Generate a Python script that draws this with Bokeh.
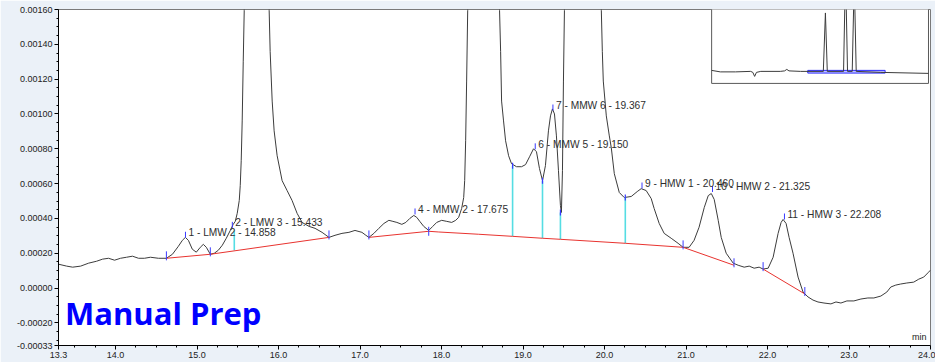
import numpy as np
from bokeh.plotting import figure
from bokeh.models import Range1d, FixedTicker, PrintfTickFormatter, Label
from bokeh.core.properties import value
from bokeh.embed import file_html
from bokeh.resources import INLINE

# ---------------- data ----------------
# main chromatogram trace (time in min, absorbance in AU)
trace_t = [
    13.300, 13.400, 13.474, 13.572, 13.670, 13.767, 13.841, 13.914, 13.988, 14.061,
    14.135, 14.208, 14.282, 14.355, 14.428, 14.526, 14.624, 14.698, 14.771, 14.820,
    14.857, 14.894, 14.942, 14.991, 15.040, 15.077, 15.114, 15.163, 15.212, 15.261,
    15.310, 15.359, 15.408, 15.444, 15.469, 15.493, 15.518, 15.530, 15.542, 15.554,
    15.567, 15.579, 15.603, 15.738, 15.873, 15.885, 15.897, 15.922, 15.946, 15.983,
    16.044, 16.105, 16.166, 16.228, 16.289, 16.375, 16.448, 16.534, 16.619, 16.693,
    16.778, 16.864, 16.938, 17.023, 17.072, 17.109, 17.170, 17.231, 17.293, 17.354,
    17.403, 17.452, 17.513, 17.562, 17.611, 17.660, 17.696, 17.733, 17.782, 17.843,
    17.892, 17.941, 18.002, 18.064, 18.125, 18.174, 18.210, 18.247, 18.272, 18.284,
    18.296, 18.308, 18.321, 18.345, 18.517, 18.688, 18.712, 18.725, 18.737, 18.761,
    18.786, 18.823, 18.859, 18.920, 18.982, 19.031, 19.080, 19.129, 19.165, 19.202,
    19.239, 19.275, 19.312, 19.337, 19.361, 19.386, 19.410, 19.435, 19.459, 19.471,
    19.484, 19.496, 19.508, 19.532, 19.728, 19.924, 19.961, 19.973, 19.985, 20.022,
    20.059, 20.083, 20.120, 20.181, 20.242, 20.328, 20.401, 20.450, 20.511, 20.573,
    20.609, 20.671, 20.732, 20.818, 20.903, 20.964, 21.038, 21.099, 21.160, 21.224,
    21.273, 21.310, 21.346, 21.395, 21.432, 21.493, 21.579, 21.640, 21.714, 21.775,
    21.836, 21.897, 21.946, 22.008, 22.069, 22.130, 22.167, 22.191, 22.228, 22.265,
    22.313, 22.375, 22.436, 22.497, 22.558, 22.619, 22.693, 22.778, 22.840, 22.901,
    22.974, 23.060, 23.146, 23.231, 23.305, 23.391, 23.464, 23.513, 23.574, 23.633,
    23.709, 23.794, 23.856, 23.917, 23.976, 24.000,
]
trace_a = [
    0.000137, 0.000126, 0.000120, 0.000126, 0.000143, 0.000154, 0.000166, 0.000171, 0.000160, 0.000171,
    0.000177, 0.000183, 0.000171, 0.000171, 0.000177, 0.000171, 0.000171, 0.000194, 0.000240, 0.000274,
    0.000291, 0.000274, 0.000223, 0.000206, 0.000234, 0.000251, 0.000234, 0.000194, 0.000200, 0.000217,
    0.000246, 0.000286, 0.000331, 0.000366, 0.000383, 0.000429, 0.000503, 0.000589, 0.000731, 0.000960,
    0.001303, 0.001594, 0.002400, 0.003500, 0.002400, 0.001594, 0.001360, 0.001074, 0.000903, 0.000760,
    0.000617, 0.000560, 0.000503, 0.000429, 0.000377, 0.000354, 0.000343, 0.000320, 0.000291, 0.000303,
    0.000314, 0.000320, 0.000331, 0.000320, 0.000303, 0.000291, 0.000314, 0.000343, 0.000371, 0.000389,
    0.000383, 0.000377, 0.000366, 0.000377, 0.000400, 0.000417, 0.000406, 0.000383, 0.000354, 0.000331,
    0.000354, 0.000377, 0.000389, 0.000383, 0.000377, 0.000389, 0.000406, 0.000457, 0.000520, 0.000617,
    0.000846, 0.001189, 0.001594, 0.002400, 0.006000, 0.002400, 0.001594, 0.001360, 0.001074, 0.000960,
    0.000846, 0.000760, 0.000714, 0.000697, 0.000697, 0.000709, 0.000754, 0.000800, 0.000783, 0.000686,
    0.000617, 0.000703, 0.000903, 0.000989, 0.001029, 0.001000, 0.000874, 0.000674, 0.000474, 0.000434,
    0.000674, 0.001189, 0.001594, 0.002400, 0.005500, 0.002400, 0.001594, 0.001360, 0.001189, 0.000989,
    0.000874, 0.000806, 0.000657, 0.000549, 0.000520, 0.000526, 0.000554, 0.000571, 0.000560, 0.000514,
    0.000457, 0.000371, 0.000314, 0.000286, 0.000257, 0.000234, 0.000234, 0.000274, 0.000349, 0.000463,
    0.000531, 0.000543, 0.000509, 0.000389, 0.000291, 0.000200, 0.000143, 0.000131, 0.000120, 0.000126,
    0.000114, 0.000120, 0.000109, 0.000114, 0.000177, 0.000314, 0.000377, 0.000394, 0.000371, 0.000291,
    0.000200, 0.000063, -0.000023, -0.000051, -0.000069, -0.000080, -0.000086, -0.000091, -0.000080, -0.000086,
    -0.000074, -0.000074, -0.000063, -0.000057, -0.000057, -0.000046, -0.000023, 0.000006, 0.000017, 0.000023,
    0.000029, 0.000034, 0.000051, 0.000063, 0.000091, 0.000103,
]

# integration baselines (red)
base1_t = [14.624, 15.163, 16.619]
base1_a = [0.000171, 0.000194, 0.000291]
base2_t = [17.109, 17.843, 17.966, 18.456, 18.872, 19.239, 19.459, 20.255, 20.964, 21.589]
base2_a = [0.000291, 0.000326, 0.000322, 0.000309, 0.000297, 0.000286, 0.000280, 0.000257, 0.000234, 0.000131]
base3_t = [21.946, 22.458]
base3_a = [0.000109, -0.000034]

# baseline start/end ticks
bticks_t = [14.624, 15.163, 16.619, 17.109, 17.843, 20.964, 21.589, 21.946, 22.458]
bticks_a = [0.000185, 0.000208, 0.000305, 0.000305, 0.000326, 0.000248, 0.000145, 0.000123, -0.000020]

# drop lines (cyan)
drop_t = [15.457, 18.872, 19.239, 19.459, 20.255]
drop_top = [0.000331, 0.000703, 0.000617, 0.000434, 0.000520]
drop_bot = [0.000217, 0.000297, 0.000286, 0.000280, 0.000257]

# peak labels
peak_t = [14.858, 15.433, 17.675, 19.150, 19.367, 20.460, 21.325, 22.208]
peak_names = ["1 - LMW 2", "2 - LMW 3", "4 - MMW 2", "6 - MMW 5",
              "7 - MMW 6", "9 - HMW 1", "10 - HMW 2", "11 - HMW 3"]
peak_tick_a = [0.000306, 0.000363, 0.000440, 0.000814, 0.001037, 0.000589, 0.000569, 0.000411]

# overview inset (full run, 0-30 min)
inset_t = [0.0, 1.2, 3.3, 5.4, 5.7, 5.95, 6.2, 6.8, 9.5, 10.1, 10.4, 10.7, 12.3,
           15.45, 15.74, 16.0, 18.25, 18.52, 18.8, 19.45, 19.73, 20.0, 23.4, 30.0]
inset_a = [0.000158, 0.000071, 0.000071, 0.0001, 0.000042, -0.000192, 0.000042, 0.0001,
           0.0001, 0.000129, 0.000217, 0.000129, 0.0001, 0.0001, 0.0035, 0.0001, 0.0001,
           0.0060, 0.0001, 0.0001, 0.0055, 0.0001, 0.000042, -0.000017]
zoom_window = [13.3, 24.0]

# axis ticks
x_ticks = [13.3, 14.0, 15.0, 16.0, 17.0, 18.0, 19.0, 20.0, 21.0, 22.0, 23.0, 24.0]
y_ticks = [-0.00033, -0.0002, 0.0, 0.0002, 0.0004, 0.0006, 0.0008, 0.0010, 0.0012, 0.0014, 0.0016]

# ---------------- figure ----------------
X0, X1 = 13.3, 24.0
Y0, Y1 = -0.00033, 0.0016
p = figure(width=935, height=362, output_backend="svg", toolbar_location=None,
           x_range=Range1d(X0, X1), y_range=Range1d(Y0, Y1),
           min_border_left=58, min_border_right=5, min_border_top=9, min_border_bottom=17)
p.grid.visible = False
p.background_fill_color = "white"
p.border_fill_color = "#ebf1f8"
p.outline_line_color = "#7a7a7a"

# inset placement (fractions of the frame) and its own ranges
in_l, in_r, in_b = 0.749, 0.9977, 0.780
in_x0, in_x1 = 0.0, 30.0
in_y0, in_y1 = -0.0006, 0.0037
sx = (in_x1 - in_x0) / (in_r - in_l)
sy = (in_y1 - in_y0) / (1.0 - in_b)
p.extra_x_ranges = {"ix": Range1d(in_x0 - in_l * sx, in_x1 + (1 - in_r) * sx)}
p.extra_y_ranges = {"iy": Range1d(in_y0 - in_b * sy, in_y1)}

# axes
for ax in (p.xaxis[0], p.yaxis[0]):
    ax.axis_line_color = "black"
    ax.major_tick_line_color = "black"
    ax.minor_tick_line_color = "black"
    ax.major_tick_out = 4
    ax.major_tick_in = 0
    ax.minor_tick_out = 2
    ax.minor_tick_in = 0
    ax.major_label_text_font = "Liberation Sans"
    ax.major_label_text_font_size = "9px"
    ax.major_label_text_color = "#222222"
    ax.major_label_standoff = 2

p.xaxis.ticker = FixedTicker(ticks=x_ticks, minor_ticks=list(np.arange(13.5, 24.0, 0.25)))
p.xaxis.formatter = PrintfTickFormatter(format="%.1f")
p.yaxis.ticker = FixedTicker(ticks=y_ticks, minor_ticks=list(np.arange(-0.0003, 0.00161, 0.00005)))
p.yaxis.formatter = PrintfTickFormatter(format="%.5f")

# trace, baselines, drop lines
p.line(trace_t, trace_a, line_color="#3c3c3c", line_width=1)
p.segment(x0=drop_t, y0=drop_bot, x1=drop_t, y1=drop_top, line_color="#55dde3", line_width=1.6)
for bt, ba in ((base1_t, base1_a), (base2_t, base2_a), (base3_t, base3_a)):
    p.line(bt, ba, line_color="#e8332f", line_width=1)

blue = "#3a3aff"
p.scatter(bticks_t, bticks_a, marker="dash", angle=np.pi / 2, size=9, line_color=blue, line_width=1)
p.scatter(drop_t[1:], drop_top[1:], marker="dash", angle=np.pi / 2, size=6, line_color=blue, line_width=1.2)
p.scatter(peak_t, peak_tick_a, marker="dash", angle=np.pi / 2, size=6, line_color=blue, line_width=1)

labels = [f"{n} - {t:.3f}" for n, t in zip(peak_names, peak_t)]
p.text(x=peak_t, y=peak_tick_a, text=labels, x_offset=3, y_offset=-2,
       text_font=value("Liberation Sans"), text_font_size=value("10.2px"),
       text_color="#2e2e2e", text_baseline="middle", text_align="left")

# inset
p.quad(left=[in_x0], right=[in_x1], bottom=[in_y0], top=[in_y1 * 2], fill_color="white",
       line_alpha=0, x_range_name="ix", y_range_name="iy")
p.multi_line(xs=[[in_x0, in_x0, in_x1, in_x1]], ys=[[in_y1 * 2, in_y0, in_y0, in_y1 * 2]],
             line_color="#5a5a5a", line_width=1, x_range_name="ix", y_range_name="iy")
p.quad(left=[zoom_window[0]], right=[zoom_window[1]], bottom=[0.000001], top=[0.000158],
       fill_color="#8a8aff", fill_alpha=0.5, line_color="#2b2bff", line_width=1,
       x_range_name="ix", y_range_name="iy")
p.line(inset_t, inset_a, line_color="#3c3c3c", line_width=1, x_range_name="ix", y_range_name="iy")

# annotations
p.add_layout(Label(x=13.38, y=-0.000143, text="Manual Prep", text_font="Open Sans",
                   text_font_style="bold", text_font_size="31px", text_color="#0000ff",
                   text_baseline="alphabetic"))
p.add_layout(Label(x=X1, y=Y0, x_offset=-4, y_offset=4, text="min", text_align="right",
                   text_baseline="bottom", text_font="Liberation Sans", text_font_size="9px",
                   text_color="#222222"))

open("out.html", "w").write(file_html(p, INLINE))
